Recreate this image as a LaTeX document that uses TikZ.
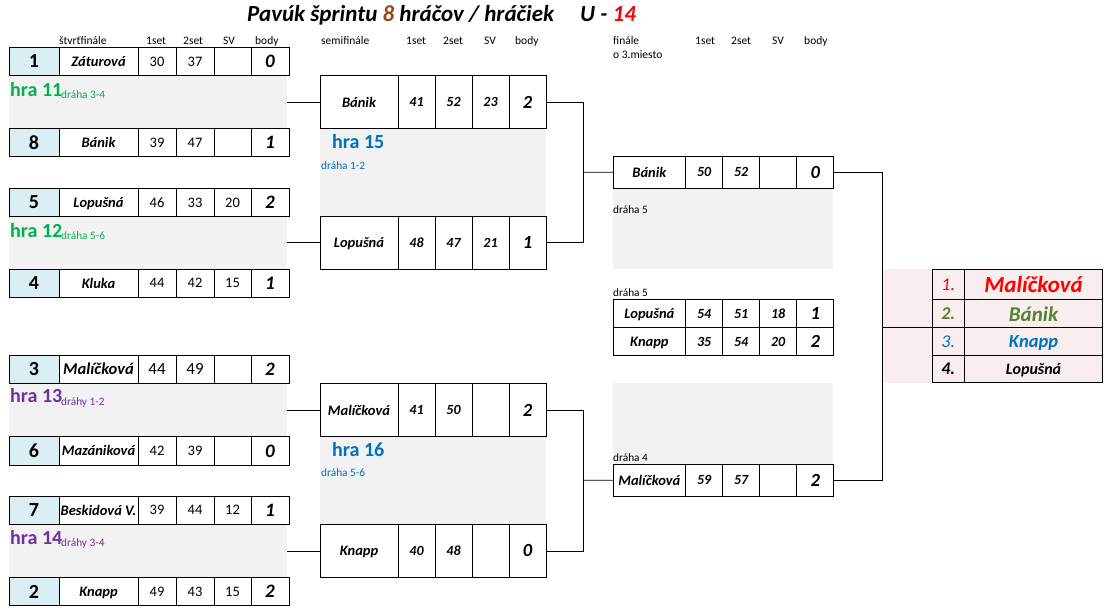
\documentclass[tikz,border=0pt]{standalone}
\usepackage{fontspec}
\setmainfont{Carlito}
\usepackage{tikz}
\usepackage{xcolor}
\definecolor{cseed}{HTML}{DAEEF3}
\definecolor{cband}{HTML}{F2F2F2}
\definecolor{cpink}{HTML}{F9EEEE}
\definecolor{cgreen}{HTML}{00B050}
\definecolor{cpurple}{HTML}{7030A0}
\definecolor{cblue}{HTML}{0070C0}
\definecolor{cbrown}{HTML}{9A4A17}
\definecolor{colive}{HTML}{548235}
\definecolor{cred}{HTML}{FF0000}
\newcommand{\fsz}[1]{\fontsize{#1}{#1}\selectfont}
% quarterfinal row: id, top, seed, player, set1, set2, SV, points
\newcommand{\qfrow}[8]{%
  \node[seedcell,minimum width=50pt] (#1s) at (9,#2) {#3};
  \node[plname,minimum width=79pt] (#1n) at (#1s.north east) {#4};
  \node[qscore,minimum width=38pt] (#1a) at (#1n.north east) {#5};
  \node[qscore,minimum width=38pt] (#1b) at (#1a.north east) {#6};
  \node[qscore,minimum width=37pt] (#1c) at (#1b.north east) {#7};
  \node[qpts,minimum width=38pt] (#1p) at (#1c.north east) {#8};
}
% later rounds: [name width] id, top left, height, player, set1, set2, SV, points
\newcommand{\mrow}[9][78]{%
  \node[plname,minimum width=#1pt,minimum height=#4pt] (#2n) at (#3) {#5};
  \node[mscore,minimum height=#4pt] (#2a) at (#2n.north east) {#6};
  \node[mscore,minimum height=#4pt] (#2b) at (#2a.north east) {#7};
  \node[mscore,minimum height=#4pt] (#2c) at (#2b.north east) {#8};
  \node[mpts,minimum height=#4pt] (#2p) at (#2c.north east) {#9};
}

\begin{document}
\begin{tikzpicture}[x=1pt,y=-1pt,
    cell/.style={draw,line width=.8pt,anchor=north west,inner sep=0pt,outer sep=0pt,minimum height=28.4pt,text depth=0pt},
    seedcell/.style={cell,fill=cseed,font=\bfseries\fsz{20}},
    plname/.style={cell,fill=white,font=\bfseries\itshape\fsz{14.5}},
    qscore/.style={cell,fill=white,font=\fsz{14.5}},
    qpts/.style={cell,fill=white,font=\bfseries\itshape\fsz{19}},
    mscore/.style={cell,fill=white,minimum width=37pt,font=\bfseries\itshape\fsz{14}},
    mpts/.style={cell,fill=white,minimum width=37pt,font=\bfseries\itshape\fsz{18.5}},
    band/.style={fill=cband,anchor=north west,inner sep=0pt,outer sep=0pt},
    head/.style={anchor=base west,inner sep=0pt,font=\fsz{11.5}},
    hra/.style={anchor=base west,inner sep=0pt,font=\bfseries\fsz{20}},
    lane/.style={anchor=base west,inner sep=0pt,font=\fsz{11.3}},
    rank/.style={cell,fill=cpink,minimum width=32.5pt,font=\fsz{18}},
    wire/.style={line width=.8pt},
  ]
  \useasboundingbox (0,0) rectangle (1115,615);

  % title
  \node[anchor=base west,inner sep=0pt,font=\bfseries\itshape\fsz{23}] (title) at (247,21.7)
    {Pavúk šprintu \textcolor{cbrown}{8} hráčov / hráčiek};
  \node[anchor=base west,inner sep=0pt,font=\bfseries\itshape\fsz{23}] (agecat) at (580,21.7)
    {U - \textcolor{cred}{14}};

  % column headers
  \node[head] (h1) at (59,44.3) {štvrťfinále};
  \node[head] (h2) at (146,44.3) {1set};
  \node[head] (h3) at (183,44.3) {2set};
  \node[head] (h4) at (223,44.3) {SV};
  \node[head] (h5) at (255,44.3) {body};
  \node[head] (h6) at (321,44.3) {semifinále};
  \node[head] (h7) at (406,44.3) {1set};
  \node[head] (h8) at (443,44.3) {2set};
  \node[head] (h9) at (484,44.3) {SV};
  \node[head] (h10) at (515,44.3) {body};
  \node[head] (h11) at (613,44.3) {finále};
  \node[head] (h12) at (613,58.3) {o 3.miesto};
  \node[head] (h13) at (695,44.3) {1set};
  \node[head] (h14) at (731,44.3) {2set};
  \node[head] (h15) at (772,44.3) {SV};
  \node[head] (h16) at (804,44.3) {body};

  % grey bands
  \node[band,minimum width=278pt,minimum height=52.6pt] (g11) at (9,75.7) {};
  \node[band,minimum width=278pt,minimum height=52.3pt] (g12) at (9,216.7) {};
  \node[band,minimum width=278pt,minimum height=53.2pt] (g13) at (9,383.4) {};
  \node[band,minimum width=278pt,minimum height=53pt] (g14) at (9,524.4) {};
  \node[band,minimum width=226pt,minimum height=88.4pt] (g15) at (320,128.3) {};
  \node[band,minimum width=226pt,minimum height=87.8pt] (g16) at (320,436.6) {};
  \node[band,minimum width=220pt,minimum height=80.7pt] (gfin) at (613,188.3) {};
  \node[band,minimum width=220pt,minimum height=81.8pt] (gfin2) at (613,382.7) {};
  \node[band,fill=cpink,minimum width=220.5pt,minimum height=113.4pt] (rkbg) at (882,269.3) {};

  % quarterfinals
  \qfrow{qa}{47.3}{1}{Záturová}{30}{37}{}{0}
  \qfrow{qb}{128.3}{8}{Bánik}{39}{47}{}{1}
  \qfrow{qc}{188.3}{5}{Lopušná}{46}{33}{20}{2}
  \qfrow{qd}{269}{4}{Kluka}{44}{42}{15}{1}
  \qfrow{qe}{355}{3}{\fsz{16.5}Malíčková}{\fsz{17}44}{\fsz{17}49}{}{2}
  \qfrow{qf}{436.6}{6}{Mazániková}{42}{39}{}{0}
  \qfrow{qg}{496}{7}{Beskidová V.}{39}{44}{12}{1}
  \qfrow{qh}{577.4}{2}{Knapp}{49}{43}{15}{2}

  \node[hra,text=cgreen] (l11) at (10,96.7) {hra 11};
  \node[lane,text=cgreen] (d11) at (61,99) {dráha 3-4};
  \node[hra,text=cgreen] (l12) at (10,237.3) {hra 12};
  \node[lane,text=cgreen] (d12) at (61,239.3) {dráha 5-6};
  \node[hra,text=cpurple] (l13) at (10,402.7) {hra 13};
  \node[lane,text=cpurple] (d13) at (61,405) {dráhy 1-2};
  \node[hra,text=cpurple] (l14) at (10,544.3) {hra 14};
  \node[lane,text=cpurple] (d14) at (61,546.7) {dráhy 3-4};

  % semifinals
  \mrow{sa}{320,75.7}{52.6}{Bánik}{41}{52}{23}{2}
  \mrow{sb}{320,216.7}{52.3}{Lopušná}{48}{47}{21}{1}
  \mrow{sc}{320,383.4}{53.2}{Malíčková}{41}{50}{}{2}
  \mrow{sd}{320,524.4}{53}{Knapp}{40}{48}{}{0}

  \node[hra,text=cblue] (l15) at (332,148.3) {hra 15};
  \node[lane,text=cblue] (d15) at (321,169) {dráha 1-2};
  \node[hra,text=cblue] (l16) at (332,456.7) {hra 16};
  \node[lane,text=cblue] (d16) at (321,476.7) {dráha 5-6};

  % final and 3rd place
  \mrow[72.7]{fa}{613,156}{32.3}{Bánik}{50}{52}{}{0}
  \node[lane] (dfa) at (613,213.3) {dráha 5};
  \node[lane] (dta) at (613,296) {dráha 5};
  \mrow[72.7]{ta}{613,299.5}{28}{Lopušná}{54}{51}{18}{1}
  \mrow[72.7]{tb}{613,327.5}{28}{Knapp}{35}{54}{20}{2}
  \node[lane] (dfb) at (613,461.3) {dráha 4};
  \mrow[72.7]{fb}{613,464.5}{31.5}{Malíčková}{59}{57}{}{2}

  % final standings
  \node[rank,minimum height=30.4pt,text=cred,font=\itshape\fsz{18}] (r1) at (932,269.3) {1.};
  \node[rank,minimum width=138pt,minimum height=30.4pt,text=cred,font=\bfseries\itshape\fsz{23}] (r1n) at (r1.north east) {Malíčková};
  \node[rank,minimum height=28pt,text=colive,font=\bfseries\itshape\fsz{18}] (r2) at (932,299.7) {2.};
  \node[rank,minimum width=138pt,minimum height=28pt,text=colive,font=\bfseries\itshape\fsz{21}] (r2n) at (r2.north east) {Bánik};
  \node[rank,minimum height=27.6pt,text=cblue,font=\itshape\fsz{18}] (r3) at (932,327.7) {3.};
  \node[rank,minimum width=138pt,minimum height=27.6pt,text=cblue,font=\bfseries\itshape\fsz{18.5}] (r3n) at (r3.north east) {Knapp};
  \node[rank,minimum height=27.4pt,font=\bfseries\itshape\fsz{18}] (r4) at (932,355.3) {4.};
  \node[rank,minimum width=138pt,minimum height=27.4pt,font=\bfseries\itshape\fsz{16}] (r4n) at (r4.north east) {Lopušná};

  % connectors
  \coordinate (j1) at (583.5,172.2);
  \coordinate (j2) at (583.5,480.2);
  \coordinate (j3) at (882,327.7);
  \draw[wire] (g11.east) -- (san.west);
  \draw[wire] (g12.east) -- (sbn.west);
  \draw[wire] (g13.east) -- (scn.west);
  \draw[wire] (g14.east) -- (sdn.west);
  \draw[wire] (sap.east) -| (j1) |- (sbp.east);
  \draw[wire] (j1) -- (fan.west);
  \draw[wire] (scp.east) -| (j2) |- (sdp.east);
  \draw[wire] (j2) -- (fbn.west);
  \draw[wire] (fap.east) -| (j3) |- (fbp.east);
  \draw[wire] (j3) -- (r3.north west);
\end{tikzpicture}
\end{document}
